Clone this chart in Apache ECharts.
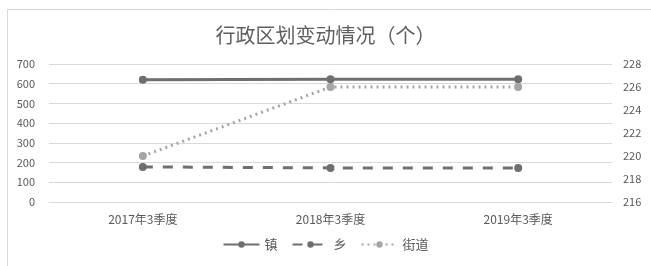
<!DOCTYPE html>
<html>
<head>
<meta charset="utf-8">
<script src="https://cdn.jsdelivr.net/npm/echarts@6/dist/echarts.min.js"></script>
<style>
  html, body { margin: 0; padding: 0; background: #fff; }
  #chart { width: 651px; height: 266px; }
</style>
</head>
<body>
<div id="chart"></div>
<script>
const categories = ['2017年3季度', '2018年3季度', '2019年3季度'];
const zhen = [620, 623, 623];
const xiang = [178, 173, 173];
const jiedao = [220, 226, 226];
const leftTicks = { min: 0, max: 700, interval: 100 };
const rightTicks = { min: 216, max: 228, interval: 2 };

const textColor = '#595959';
const font = '"Noto Sans CJK SC", "Noto Sans", sans-serif';

const chart = echarts.init(document.getElementById('chart'));

chart.setOption({
  animation: false,
  textStyle: { fontFamily: font },
  title: {
    text: '行政区划变动情况（个）',
    left: 'center',
    top: 20,
    textStyle: { fontSize: 20, fontWeight: 'normal', color: '#5f5f5f', fontFamily: font }
  },
  graphic: [{
    type: 'rect',
    shape: { x: 7.5, y: 9.5, width: 700, height: 300 },
    style: { fill: 'none', stroke: '#d9d9d9', lineWidth: 1 },
    silent: true
  }],
  legend: {
    bottom: 10,
    left: 'center',
    itemWidth: 36,
    itemHeight: 8,
    itemGap: 14,
    textStyle: { fontSize: 13, color: textColor, fontFamily: font },
    data: ['镇', '乡', '街道']
  },
  grid: { left: 49, right: 39, top: 64, bottom: 64, containLabel: false },
  xAxis: {
    type: 'category',
    data: categories,
    boundaryGap: true,
    axisLine: { lineStyle: { color: '#d9d9d9' } },
    axisTick: { show: false },
    axisLabel: { color: textColor, fontSize: 12, margin: 11 }
  },
  yAxis: [{
    type: 'value',
    min: leftTicks.min,
    max: leftTicks.max,
    interval: leftTicks.interval,
    axisLine: { show: false },
    axisTick: { show: false },
    axisLabel: { color: textColor, fontSize: 11, margin: 14 },
    splitLine: { lineStyle: { color: '#d9d9d9' } }
  }, {
    type: 'value',
    min: rightTicks.min,
    max: rightTicks.max,
    interval: rightTicks.interval,
    axisLine: { show: false },
    axisTick: { show: false },
    axisLabel: { color: textColor, fontSize: 11, margin: 11 },
    splitLine: { show: false }
  }],
  series: [{
    name: '镇',
    type: 'line',
    data: zhen,
    symbol: 'circle',
    symbolSize: 8,
    color: '#6f6f6f',
    lineStyle: { width: 3, type: 'solid', color: '#6f6f6f' },
    itemStyle: { color: '#6f6f6f' }
  }, {
    name: '乡',
    type: 'line',
    data: xiang,
    symbol: 'circle',
    symbolSize: 8,
    color: '#6f6f6f',
    lineStyle: { width: 3, type: [10, 10], color: '#6f6f6f' },
    itemStyle: { color: '#6f6f6f' }
  }, {
    name: '街道',
    type: 'line',
    yAxisIndex: 1,
    data: jiedao,
    symbol: 'circle',
    symbolSize: 8,
    color: '#a5a5a5',
    lineStyle: { width: 3, type: [2, 4], color: '#a5a5a5' },
    itemStyle: { color: '#a5a5a5' }
  }]
});
</script>
</body>
</html>
